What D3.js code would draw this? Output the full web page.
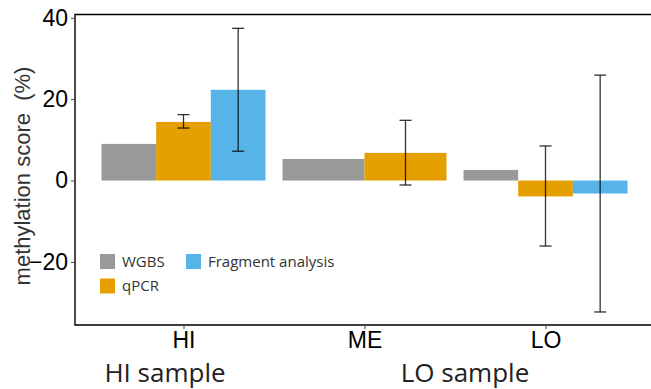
<!DOCTYPE html>
<html>
<head>
<meta charset="utf-8">
<script src="https://cdn.jsdelivr.net/npm/d3@7"></script>
<style>
  body { margin: 0; background: #fff; }
  svg { display: block; }
</style>
</head>
<body>
<div id="chart"></div>
<script>
// data
const categories = ['HI', 'ME', 'LO'];
const methods = ['WGBS', 'qPCR', 'Fragment analysis'];
const wgbs = [9.0, 5.3, 2.6];
const qpcr = [14.4, 6.8, -3.9];
const fragment = [22.3, null, -3.2];
const qpcrLow = [12.9, -1.1, -16.1];
const qpcrHigh = [16.2, 14.8, 8.5];
const fragLow = [7.2, null, -32.3];
const fragHigh = [37.4, null, 25.9];
const yTicks = [-20, 0, 20, 40];
const sampleLabels = ['HI sample', 'LO sample'];
const colors = ['#999999', '#E69F00', '#56B4E9'];

const width = 651;
const height = 389;
const marginLeft = 75;
const marginTop = 14.5;
const plotBottom = 325;

const svg = d3.select('#chart')
  .append('svg')
  .attr('width', width)
  .attr('height', height);

// build rows per category
const rows = categories.map((c, i) => {
  const vals = [
    { m: 0, v: wgbs[i] },
    { m: 1, v: qpcr[i], lo: qpcrLow[i], hi: qpcrHigh[i] },
    { m: 2, v: fragment[i], lo: fragLow[i], hi: fragHigh[i] }
  ].filter(d => d.v !== null);
  return { cat: c, vals };
});

const x = d3.scalePoint()
  .domain(categories)
  .range([183.5, 545.5]);
const groupWidth = 164;

const y = d3.scaleLinear()
  .domain([-35.5, 40.8])
  .range([plotBottom, marginTop]);

// bars + error bars
rows.forEach(r => {
  const inner = d3.scaleBand()
    .domain(r.vals.map(d => d.m))
    .range([x(r.cat) - groupWidth / 2, x(r.cat) + groupWidth / 2]);
  const g = svg.append('g');
  g.selectAll('rect')
    .data(r.vals)
    .enter().append('rect')
    .attr('x', d => inner(d.m))
    .attr('width', inner.bandwidth())
    .attr('y', d => y(Math.max(0, d.v)))
    .attr('height', d => Math.abs(y(d.v) - y(0)))
    .attr('fill', d => colors[d.m]);

  const eb = r.vals.filter(d => d.lo !== undefined && d.lo !== null);
  const cap = 6;
  const e = g.selectAll('g.err')
    .data(eb)
    .enter().append('g')
    .attr('class', 'err')
    .attr('stroke', '#000')
    .attr('stroke-opacity', 0.8)
    .attr('stroke-width', 1.3);
  e.append('line')
    .attr('x1', d => inner(d.m) + inner.bandwidth() / 2)
    .attr('x2', d => inner(d.m) + inner.bandwidth() / 2)
    .attr('y1', d => y(d.lo))
    .attr('y2', d => y(d.hi));
  e.append('line')
    .attr('x1', d => inner(d.m) + inner.bandwidth() / 2 - cap)
    .attr('x2', d => inner(d.m) + inner.bandwidth() / 2 + cap)
    .attr('y1', d => y(d.hi))
    .attr('y2', d => y(d.hi));
  e.append('line')
    .attr('x1', d => inner(d.m) + inner.bandwidth() / 2 - cap)
    .attr('x2', d => inner(d.m) + inner.bandwidth() / 2 + cap)
    .attr('y1', d => y(d.lo))
    .attr('y2', d => y(d.lo));
});

// frame: top, left, bottom
svg.append('path')
  .attr('d', `M${width},${marginTop}H${marginLeft}V${plotBottom}H${width}`)
  .attr('fill', 'none')
  .attr('stroke', '#000')
  .attr('stroke-width', 1.4);

// y axis
svg.append('g')
  .attr('transform', `translate(${marginLeft},0)`)
  .call(d3.axisLeft(y).tickValues(yTicks).tickSize(4).tickPadding(3).tickFormat(d => d < 0 ? '\u2212' + Math.abs(d) : d))
  .call(g => g.select('.domain').remove())
  .call(g => g.selectAll('.tick line').attr('stroke', '#444'))
  .call(g => g.selectAll('.tick text')
    .attr('font-family', '"Liberation Sans", Arial, sans-serif')
    .attr('font-size', 23)
    .attr('fill', '#000'));

// x axis
svg.append('g')
  .attr('transform', `translate(0,${plotBottom})`)
  .call(d3.axisBottom(x).tickSize(4).tickPadding(3))
  .call(g => g.select('.domain').remove())
  .call(g => g.selectAll('.tick line').attr('stroke', '#444'))
  .call(g => g.selectAll('.tick text')
    .attr('font-family', '"Liberation Sans", Arial, sans-serif')
    .attr('font-size', 23)
    .attr('fill', '#000'));

// y title
svg.append('text')
  .attr('transform', 'translate(30,176) rotate(-90)')
  .attr('text-anchor', 'middle')
  .attr('font-family', '"Liberation Sans", Arial, sans-serif')
  .attr('font-size', 22)
  .attr('fill', '#333')
  .style('white-space', 'pre')
  .text('methylation score  (%)');

// sample labels under the axis
svg.selectAll('text.sample')
  .data(sampleLabels)
  .enter().append('text')
  .attr('class', 'sample')
  .attr('x', (d, i) => [165, 465][i])
  .attr('y', 382)
  .attr('text-anchor', 'middle')
  .attr('font-family', '"Open Sans", sans-serif')
  .attr('font-size', 26)
  .attr('fill', '#222')
  .text(d => d);

// legend
const legendPos = [[100, 254], [100, 278.5], [186, 254]];
const lg = svg.append('g')
  .selectAll('g')
  .data(methods)
  .enter().append('g')
  .attr('transform', (d, i) => `translate(${legendPos[i][0]},${legendPos[i][1]})`);
lg.append('rect')
  .attr('width', 15)
  .attr('height', 15)
  .attr('fill', (d, i) => colors[i]);
lg.append('text')
  .attr('x', 22)
  .attr('y', 12.5)
  .attr('font-family', '"Open Sans", sans-serif')
  .attr('font-size', 15)
  .attr('fill', '#333')
  .text(d => d);
</script>
</body>
</html>
